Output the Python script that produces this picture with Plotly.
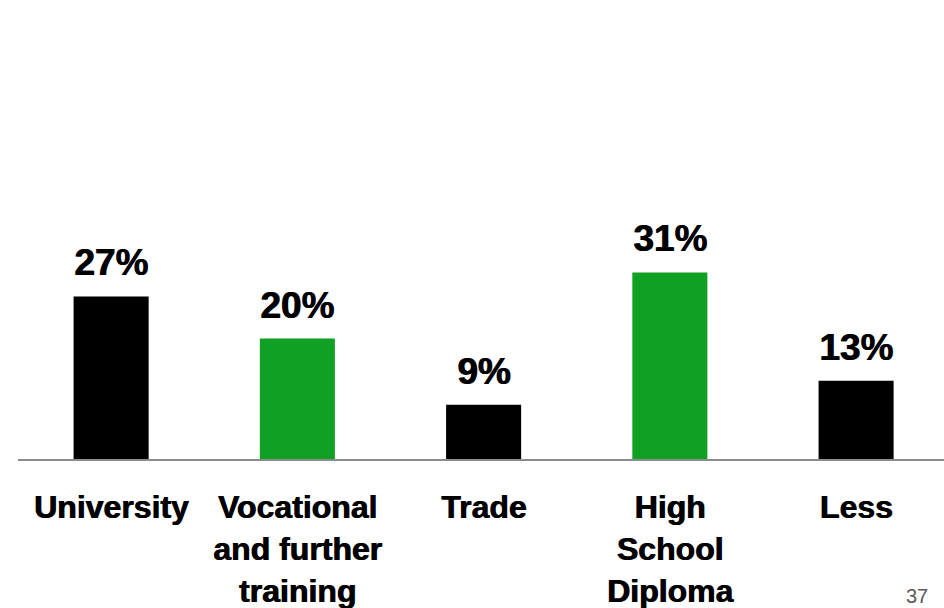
import plotly.graph_objects as go

# Education levels and their shares (%)
categories = ["University", "Vocational<br>and further<br>training", "Trade",
              "High<br>School<br>Diploma", "Less"]
values = [27, 20, 9, 31, 13]
value_labels = ["27%", "20%", "9%", "31%", "13%"]
bar_colors = ["#000000", "#10A023", "#000000", "#10A023", "#000000"]
page_number = "37"

x_pos = list(range(len(categories)))
heavy = "0.9px 0px 0px #000000"
font_family = "Liberation Sans, Arial, sans-serif"

fig = go.Figure()
fig.add_trace(go.Bar(
    x=x_pos,
    y=values,
    marker=dict(color=bar_colors, line=dict(width=0)),
    width=0.403,
    hoverinfo="skip",
))

# Percentage labels above each bar
for xi, v, lab in zip(x_pos, values, value_labels):
    fig.add_annotation(
        x=xi, y=v, text=f"<b>{lab}</b>", showarrow=False,
        xref="x", yref="y", yanchor="bottom", yshift=11,
        font=dict(family=font_family, size=37, color="#000000", shadow=heavy),
    )

# Slide page number
fig.add_annotation(
    x=1, y=0, xref="paper", yref="paper", text=page_number,
    showarrow=False, xanchor="right", yanchor="top",
    xshift=-14, yshift=-124,
    font=dict(family=font_family, size=20, color="#595959"),
)

fig.update_layout(
    width=944, height=608,
    margin=dict(l=18, r=0, t=20, b=149),
    paper_bgcolor="#ffffff",
    plot_bgcolor="#ffffff",
    showlegend=False,
    xaxis=dict(
        range=[-0.5, 4.472],
        tickmode="array",
        tickvals=x_pos,
        ticktext=[f"<b>{c}</b>" for c in categories],
        tickfont=dict(family=font_family, size=32, color="#000000", shadow=heavy),
        showline=True, linecolor="#8c8c8c", linewidth=2,
        ticks="", showgrid=False, zeroline=False,
        ticklabelstandoff=19,
        automargin=False,
    ),
    yaxis=dict(
        range=[0, 439 / 6.02],
        visible=False, showgrid=False, zeroline=False,
        automargin=False,
    ),
)

fig.write_html("out.html")
